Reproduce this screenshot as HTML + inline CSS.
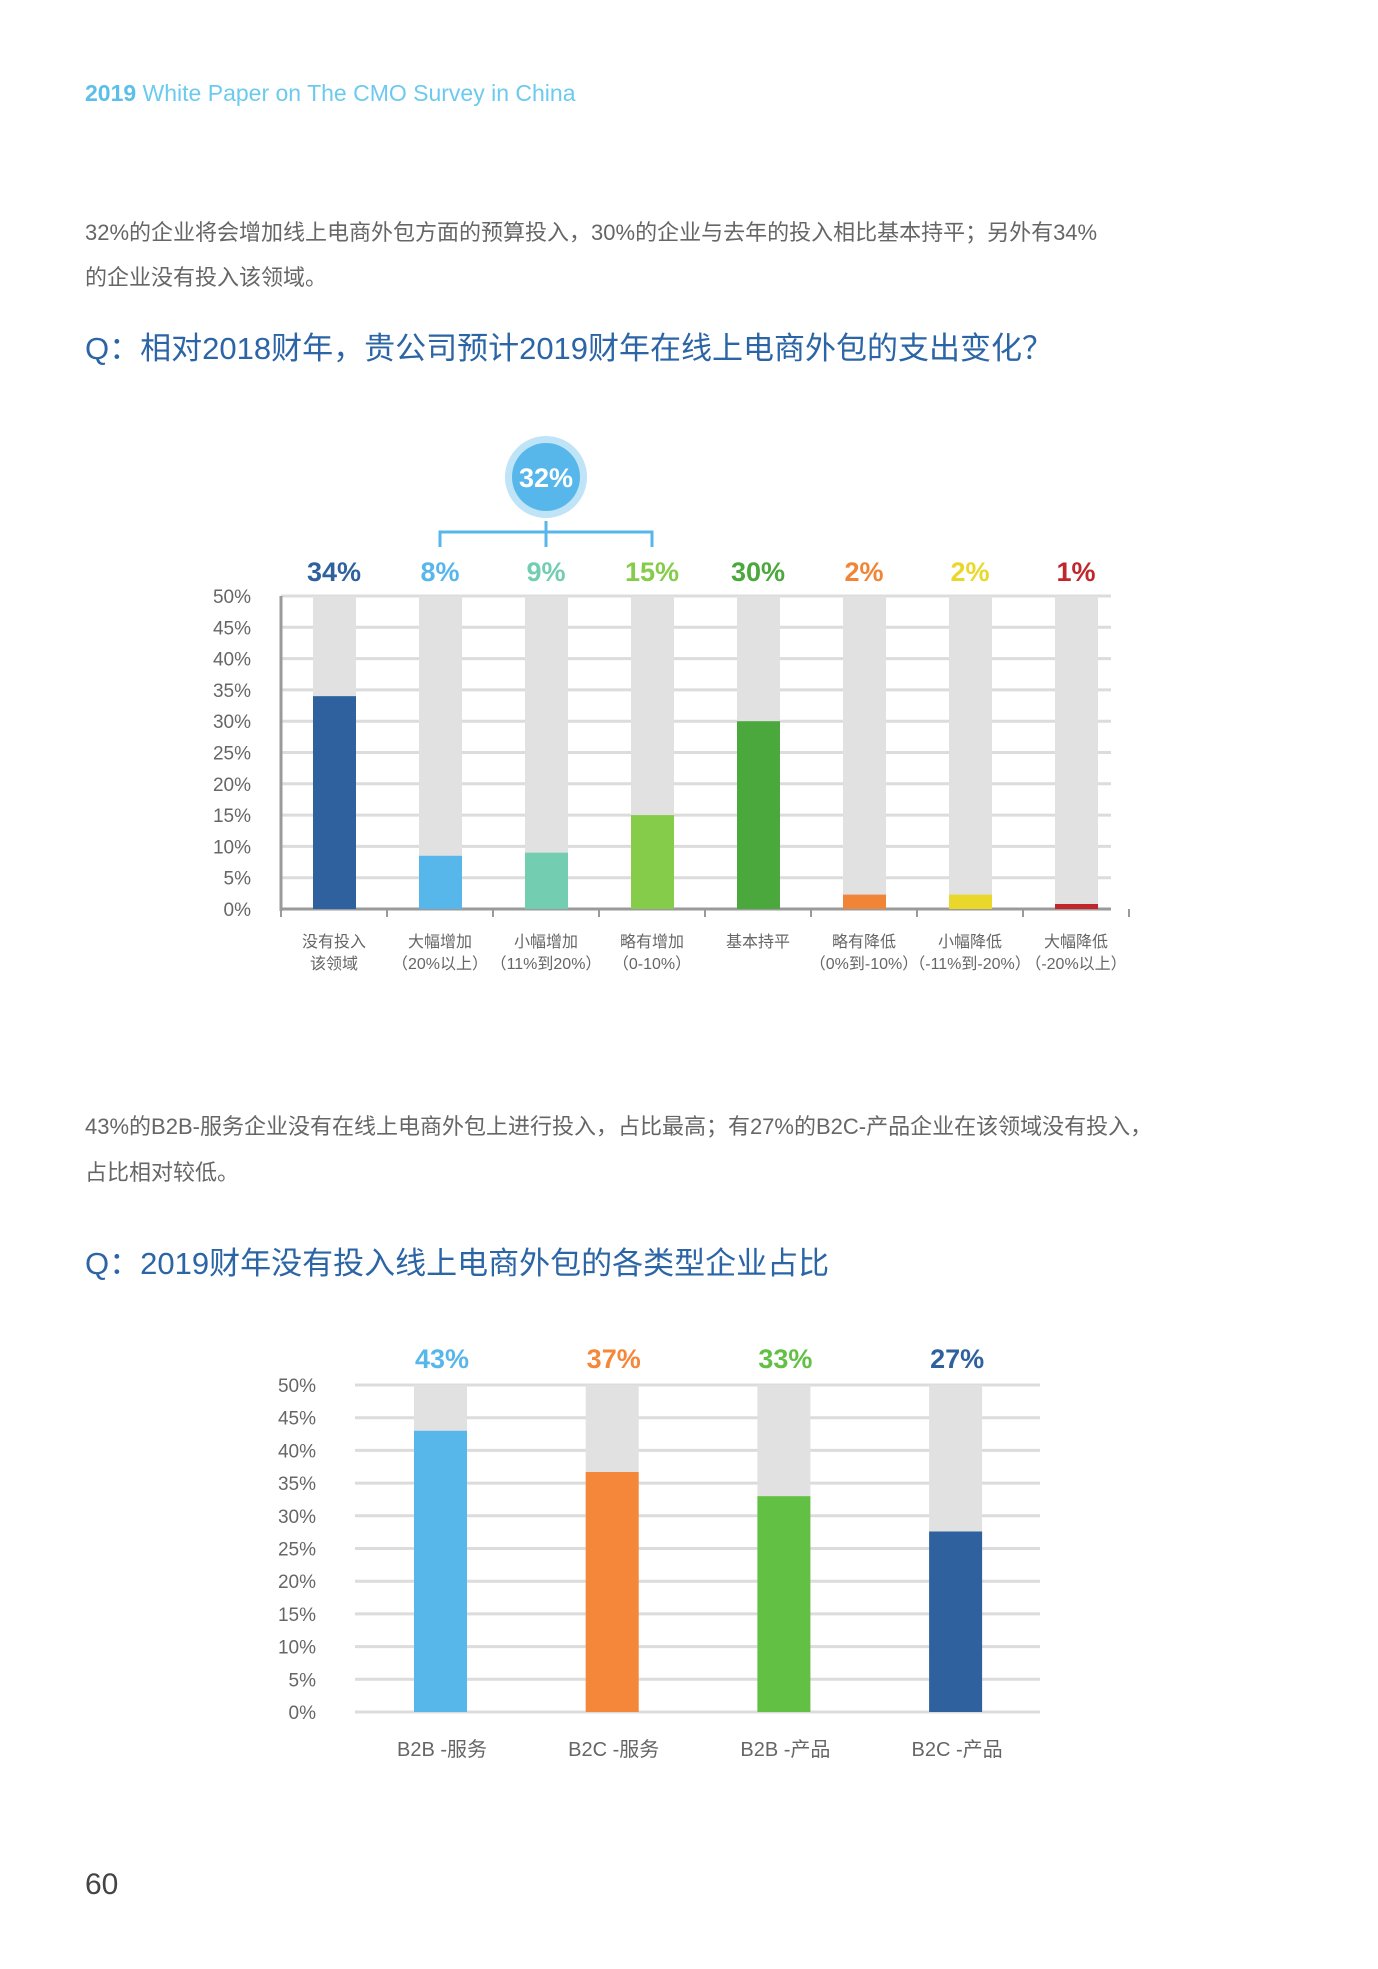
<!DOCTYPE html>
<html><head><meta charset="utf-8">
<style>
html,body{margin:0;padding:0;background:#fff;}
body{width:1378px;height:1969px;position:relative;overflow:hidden;font-family:"Liberation Sans","Noto Sans CJK SC",sans-serif;}
.t{position:absolute;white-space:nowrap;}
</style></head>
<body>
<div class="t" style="left:85px;top:80px;font-size:23px;color:#6ccaef;"><b style="color:#5bbfe9">2019</b> White Paper on The CMO Survey in China</div>
<div class="t" style="left:85px;top:210px;font-size:22px;color:#666;line-height:45px;">32%的企业将会增加线上电商外包方面的预算投入，30%的企业与去年的投入相比基本持平；另外有34%<br>的企业没有投入该领域。</div>
<div class="t" style="left:85px;top:323px;font-size:31px;color:#2c65a6;">Q：相对2018财年，贵公司预计2019财年在线上电商外包的支出变化？</div>
<div class="t" style="left:85px;top:1104px;font-size:22px;color:#666;line-height:46px;">43%的B2B-服务企业没有在线上电商外包上进行投入，占比最高；有27%的B2C-产品企业在该领域没有投入，<br>占比相对较低。</div>
<div class="t" style="left:85px;top:1238px;font-size:31px;color:#2c65a6;">Q：2019财年没有投入线上电商外包的各类型企业占比</div>
<div class="t" style="left:85px;top:1868px;font-size:30px;color:#444;">60</div>

<svg id="c" width="1378" height="1969" style="position:absolute;left:0;top:0"></svg>
<script>
const cats1 = ["没有投入|该领域","大幅增加|（20%以上）","小幅增加|（11%到20%）","略有增加|（0-10%）","基本持平","略有降低|（0%到-10%）","小幅降低|（-11%到-20%）","大幅降低|（-20%以上）"];
const vals1 = [34, 8.5, 9, 15, 30, 2.3, 2.3, 0.8];
const labels1 = ["34%","8%","9%","15%","30%","2%","2%","1%"];
const colors1 = ["#2f619e","#58b7ea","#72cdb1","#86cc4b","#4aa83c","#f08537","#e9d82a","#c0262b"];
const ticks = [0,5,10,15,20,25,30,35,40,45,50];
const cats2 = ["B2B -服务","B2C -服务","B2B -产品","B2C -产品"];
const vals2 = [43, 36.7, 33, 27.6];
const labels2 = ["43%","37%","33%","27%"];
const colors2 = ["#58b7ea","#f5873a","#62c044","#2f619e"];
const groupLabel = "32%";

const NS="http://www.w3.org/2000/svg", svg=document.getElementById('c');
function mk(t,a,p){const e=document.createElementNS(NS,t);for(const k in a)e.setAttribute(k,a[k]);(p||svg).appendChild(e);return e;}
function txt(s,a){const e=mk('text',a);e.textContent=s;return e;}
const F='"Liberation Sans","Noto Sans CJK SC",sans-serif';

// chart 1
const y1=v=>909-(v/50)*313, x1=i=>334+i*106;
const g1=mk('g',{});
ticks.forEach(t=>{
 const l=mk('line',{x1:281,x2:1111,y1:y1(t),y2:y1(t),stroke:t==0?'#9a9a9a':'#dcdcdc','stroke-width':t==0?3:3},g1);
 
 const e=txt(t+'%',{x:251,y:y1(t)+7,'text-anchor':'end','font-size':19,fill:'#666','font-family':F});
 
});
mk('line',{x1:281,x2:281,y1:y1(50),y2:y1(0)+2,stroke:'#9a9a9a','stroke-width':3},g1);
for(let i=0;i<=8;i++)mk('line',{x1:281+i*106,x2:281+i*106,y1:909,y2:917,stroke:'#9a9a9a','stroke-width':2},g1);
cats1.forEach((c,i)=>{
 const bg=mk('rect',{x:x1(i)-21,y:y1(50),width:43,height:y1(0)-y1(50),fill:'#e1e1e1'},g1);
 
 const b=mk('rect',{x:x1(i)-21,y:y1(vals1[i]),width:43,height:y1(0)-y1(vals1[i]),fill:colors1[i]},g1);
 
 const v=txt(labels1[i],{x:x1(i),y:581,'text-anchor':'middle','font-size':27,'font-weight':'bold',fill:colors1[i],'font-family':F});
 
 c.split('|').forEach((s,k)=>{
  const e=txt(s,{x:x1(i),y:947+k*22,'text-anchor':'middle','font-size':16,fill:'#666','font-family':F});
  
 });
});
// bracket + circle
const br=mk('path',{d:`M${x1(1)} 547 V532 H${x1(3)} V547 M${x1(2)} 521 V547`,fill:'none',stroke:'#58b7ea','stroke-width':3},g1);

mk('circle',{cx:x1(2),cy:477,r:41,fill:'#bfe3f7'},g1);
const cc=mk('circle',{cx:x1(2),cy:477,r:34,fill:'#58b7ea'},g1);

const gt=txt(groupLabel,{x:x1(2),y:487,'text-anchor':'middle','font-size':27,'font-weight':'bold',fill:'#fff','font-family':F});


// chart 2
const y2=v=>1712-(v/50)*327, x2=i=>440+i*171.7;
const g2=mk('g',{});
ticks.forEach(t=>{
 const l=mk('line',{x1:355,x2:1040,y1:y2(t),y2:y2(t),stroke:'#dcdcdc','stroke-width':3},g2);
 
 const e=txt(t+'%',{x:316,y:y2(t)+7,'text-anchor':'end','font-size':19,fill:'#666','font-family':F});
 
});
cats2.forEach((c,i)=>{
 const bg=mk('rect',{x:x2(i)-26,y:y2(50),width:53,height:y2(0)-y2(50),fill:'#e1e1e1'},g2);
 
 const b=mk('rect',{x:x2(i)-26,y:y2(vals2[i]),width:53,height:y2(0)-y2(vals2[i]),fill:colors2[i]},g2);
 
 const v=txt(labels2[i],{x:x2(i)+2,y:1368,'text-anchor':'middle','font-size':27,'font-weight':'bold',fill:colors2[i],'font-family':F});
 
 const e=txt(c,{x:x2(i)+2,y:1756,'text-anchor':'middle','font-size':20,fill:'#666','font-family':F});
 
});
</script>
</body></html>
